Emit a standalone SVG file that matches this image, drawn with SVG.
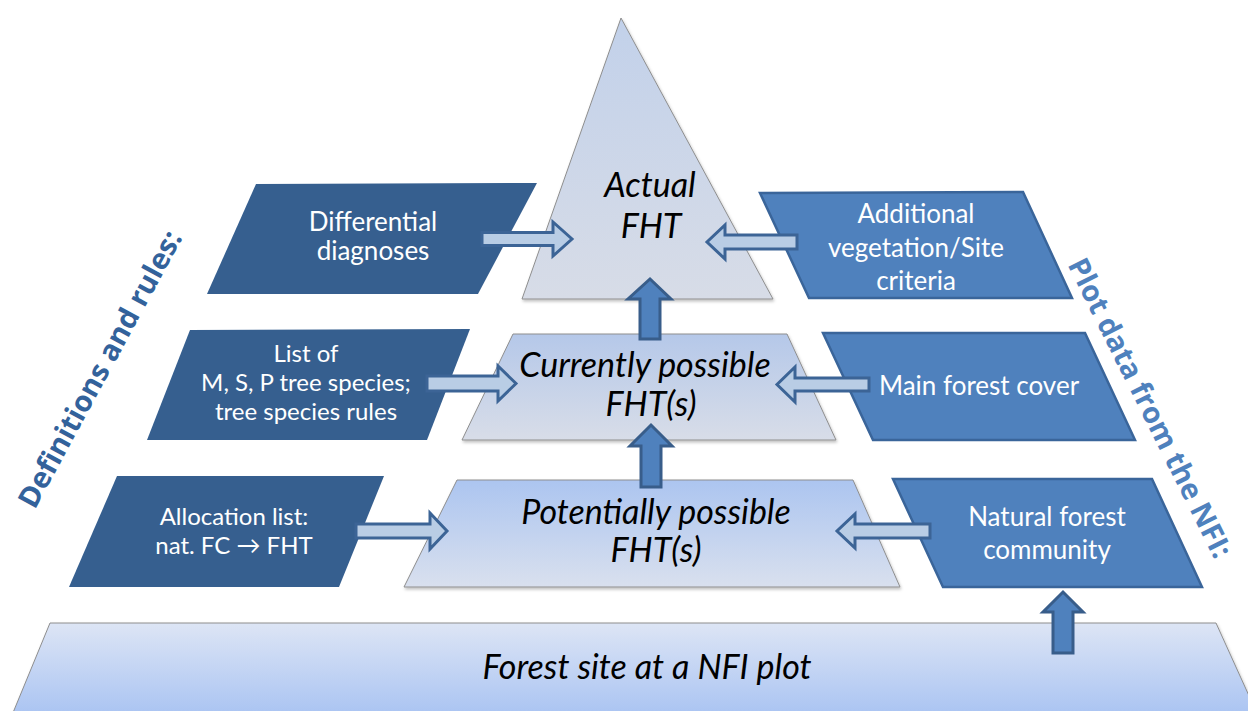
<svg xmlns="http://www.w3.org/2000/svg" width="1248" height="711" viewBox="0 0 1248 711">
  <defs>
    <linearGradient id="gTop" x1="0" y1="0" x2="0" y2="1">
      <stop offset="0" stop-color="#C2D1EA"/>
      <stop offset="1" stop-color="#D7DCE7"/>
    </linearGradient>
    <linearGradient id="gMid" x1="0" y1="0" x2="0" y2="1">
      <stop offset="0" stop-color="#B5C8E9"/>
      <stop offset="1" stop-color="#D8DDE8"/>
    </linearGradient>
    <linearGradient id="gLow" x1="0" y1="0" x2="0" y2="1">
      <stop offset="0" stop-color="#ACC5F0"/>
      <stop offset="1" stop-color="#D9E0EE"/>
    </linearGradient>
    <linearGradient id="gBase" x1="0" y1="0" x2="0" y2="1">
      <stop offset="0" stop-color="#DDE5F5"/>
      <stop offset="1" stop-color="#A7C2F2"/>
    </linearGradient>
    <filter id="shadow" x="-5%" y="-5%" width="110%" height="115%">
      <feDropShadow dx="1" dy="2" stdDeviation="1.5" flood-color="#000" flood-opacity="0.25"/>
    </filter>
  </defs>
  <style>
    .level { stroke: #8E8E8E; stroke-width: 1; filter: url(#shadow); }
    .rule { fill: #365F8F; }
    .data { fill: #4F81BD; stroke: #3A659A; stroke-width: 2.5; stroke-linejoin: miter; }
    .feed { fill: #B9CDE5; stroke: #3C6496; stroke-width: 3; stroke-linejoin: miter; }
    .lift { fill: #4F81BD; stroke: #385D8A; stroke-width: 3; stroke-linejoin: miter; }
    .lvl { font-family: Lato, "Open Sans", sans-serif; font-style: italic; font-size: 34px; fill: #000; text-anchor: middle; }
    .lbl { font-family: Lato, "Open Sans", sans-serif; font-size: 26px; fill: #FFFFFF; text-anchor: middle; }
    .lbl.tight { font-size: 24px; }
    .side { font-family: "Open Sans", Lato, sans-serif; font-weight: bold; font-size: 29px; text-anchor: middle; }
  </style>

  <!-- pyramid levels -->
  <g id="level-base">
    <polygon class="level" points="50,623 1216,623 1260,720 10,720" fill="url(#gBase)"/>
    <text class="lvl" x="647" y="679">Forest site at a NFI plot</text>
  </g>
  <g id="level-potential">
    <polygon class="level" points="457,480 853,480 900,587 404,587" fill="url(#gLow)"/>
    <text class="lvl" x="656" y="524">Potentially possible</text>
    <text class="lvl" x="656" y="562">FHT(s)</text>
  </g>
  <g id="level-current">
    <polygon class="level" points="513,334 787,334 836,440 462,440" fill="url(#gMid)"/>
    <text class="lvl" x="645" y="377">Currently possible</text>
    <text class="lvl" x="651" y="416">FHT(s)</text>
  </g>
  <g id="level-actual">
    <polygon class="level" points="621,18 773,299 522,299" fill="url(#gTop)"/>
    <text class="lvl" x="650" y="197">Actual</text>
    <text class="lvl" x="651" y="238">FHT</text>
  </g>

  <!-- definitions and rules -->
  <g id="rule-differential">
    <polygon class="rule" points="256,184 537,183 478,294 207,294"/>
    <text class="lbl" x="373" y="231">Differential</text>
    <text class="lbl" x="373" y="260">diagnoses</text>
  </g>
  <g id="rule-species">
    <polygon class="rule" points="190,330 470,329 427,440 147,440"/>
    <text class="lbl tight" x="306" y="362">List of</text>
    <text class="lbl tight" x="306" y="391">M, S, P tree species;</text>
    <text class="lbl tight" x="306" y="420">tree species rules</text>
  </g>
  <g id="rule-allocation">
    <polygon class="rule" points="117,476 384,476 339,587 69,587"/>
    <text class="lbl tight" x="234" y="525">Allocation list:</text>
    <text class="lbl tight" x="234" y="554">nat. FC → FHT</text>
  </g>

  <!-- plot data -->
  <g id="data-additional">
    <polygon class="data" points="760,193 1023,192 1072,298 809,298"/>
    <text class="lbl" x="916" y="223">Additional</text>
    <text class="lbl" x="916" y="257">vegetation/Site</text>
    <text class="lbl" x="916" y="290">criteria</text>
  </g>
  <g id="data-cover">
    <polygon class="data" points="823,333 1085,333 1135,440 873,440"/>
    <text class="lbl" x="979" y="395">Main forest cover</text>
  </g>
  <g id="data-community">
    <polygon class="data" points="893,479 1152,479 1202,587 943,587"/>
    <text class="lbl" x="1047" y="526">Natural forest</text>
    <text class="lbl" x="1047" y="559">community</text>
  </g>

  <!-- side headings -->
  <g id="heading-rules">
    <text class="side" fill="#33629B" transform="translate(100,369) rotate(-61.5)" dy="10">Definitions and rules:</text>
  </g>
  <g id="heading-data">
    <text class="side" fill="#4F81BD" transform="translate(1150,408) rotate(63.5)" dy="10">Plot data from the NFI:</text>
  </g>

  <!-- connectors -->
  <g id="connectors">
    <!-- inputs from the left -->
    <polygon class="feed" points="482,232.5 553,232.5 553,222 572,239 553,256 553,245.5 482,245.5"/>
    <polygon class="feed" points="427,376 498,376 498,366 516,383.5 498,401 498,391 427,391"/>
    <polygon class="feed" points="356,524 430,524 430,513 447,531 430,549 430,538 356,538"/>
    <!-- inputs from the right -->
    <polygon class="feed" points="797,235 725,235 725,225 707,242 725,259 725,249 797,249"/>
    <polygon class="feed" points="869,378 795,378 795,367 777,384.5 795,402 795,391 869,391"/>
    <polygon class="feed" points="930,524 855,524 855,514 837,531 855,548 855,538 930,538"/>
    <!-- upward steps -->
    <polygon class="lift" points="640,339 640,299 628,299 650,279 671,299 660,299 660,339"/>
    <polygon class="lift" points="641,487 641,446 630,446 651,425 672,446 661,446 661,487"/>
    <polygon class="lift" points="1053,653 1053,612 1043,612 1063,592 1083,612 1073,612 1073,653"/>
  </g>
</svg>
